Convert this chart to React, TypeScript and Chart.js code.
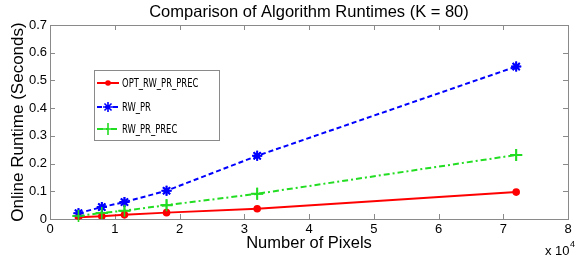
import React, { useEffect, useRef } from "react";
import { Chart, registerables } from "chart.js";

Chart.register(...registerables);

const pixels = [4400, 8000, 11500, 18000, 32000, 72000];
const optRwPrPrec = [0.006, 0.01, 0.015, 0.023, 0.037, 0.097];
const rwPr = [0.021, 0.043, 0.061, 0.102, 0.228, 0.55];
const rwPrPrec = [0.011, 0.022, 0.03, 0.05, 0.091, 0.231];
const seriesNames = ["OPT_RW_PR_PREC", "RW_PR", "RW_PR_PREC"];
const titleText = "Comparison of Algorithm Runtimes (K = 80)";
const xTitle = "Number of Pixels";
const yTitle = "Online Runtime (Seconds)";

const FONT = "'Liberation Sans', Arial, sans-serif";
const SPINE = "#8a8a8a";

function drawMarker(ctx: CanvasRenderingContext2D, style: string, x: number, y: number, r: number, color: string) {
  ctx.save();
  ctx.strokeStyle = color;
  ctx.fillStyle = color;
  ctx.lineWidth = 1.6;
  ctx.setLineDash([]);
  ctx.beginPath();
  if (style === "circle") {
    ctx.arc(x, y, r, 0, Math.PI * 2);
    ctx.fill();
  } else if (style === "star") {
    for (let i = 0; i < 4; i++) {
      const a = (i * Math.PI) / 4;
      ctx.moveTo(x - r * Math.cos(a), y - r * Math.sin(a));
      ctx.lineTo(x + r * Math.cos(a), y + r * Math.sin(a));
    }
    ctx.stroke();
  } else {
    ctx.moveTo(x - r, y);
    ctx.lineTo(x + r, y);
    ctx.moveTo(x, y - r);
    ctx.lineTo(x, y + r);
    ctx.stroke();
  }
  ctx.restore();
}

const framePlugin = {
  id: "frame",
  beforeDatasetsDraw(chart: any) {
    const { ctx, chartArea } = chart;
    const { left, right, top, bottom } = chartArea;
    ctx.save();
    ctx.strokeStyle = SPINE;
    ctx.lineWidth = 1;
    ctx.setLineDash([]);
    ctx.strokeRect(left + 0.5, top + 0.5, right - left, bottom - top);
    const tl = 5;
    const xs = chart.scales.x;
    xs.ticks.forEach((t: any) => {
      const px = Math.round(xs.getPixelForValue(t.value)) + 0.5;
      ctx.beginPath();
      ctx.moveTo(px, bottom);
      ctx.lineTo(px, bottom - tl);
      ctx.moveTo(px, top);
      ctx.lineTo(px, top + tl);
      ctx.stroke();
    });
    const ys = chart.scales.y;
    ys.ticks.forEach((t: any) => {
      const py = Math.round(ys.getPixelForValue(t.value)) + 0.5;
      ctx.beginPath();
      ctx.moveTo(left, py);
      ctx.lineTo(left + tl, py);
      ctx.moveTo(right, py);
      ctx.lineTo(right - tl, py);
      ctx.stroke();
    });
    ctx.restore();
  },
  afterDraw(chart: any) {
    const { ctx, chartArea } = chart;
    ctx.save();
    // title centred over the plot area
    ctx.fillStyle = "#000";
    ctx.font = `16.5px ${FONT}`;
    ctx.textAlign = "center";
    ctx.textBaseline = "middle";
    ctx.fillText(titleText, (chartArea.left + chartArea.right) / 2, 12);

    // exponent label
    ctx.textBaseline = "alphabetic";
    ctx.textAlign = "left";
    ctx.font = `13px ${FONT}`;
    ctx.fillText("x 10", 545, 255);
    ctx.font = `9px ${FONT}`;
    ctx.fillText("4", 570, 247);

    // legend box
    const bx = chartArea.left + 44;
    const by = chartArea.top + 45;
    const bw = 125;
    const bh = 70;
    ctx.fillStyle = "#fff";
    ctx.fillRect(bx, by, bw, bh);
    ctx.strokeStyle = SPINE;
    ctx.lineWidth = 1;
    ctx.strokeRect(bx + 0.5, by + 0.5, bw, bh);
    const rows = [13, 37, 59];
    chart.data.datasets.forEach((ds: any, i: number) => {
      const y = by + rows[i];
      ctx.save();
      ctx.strokeStyle = ds.borderColor;
      ctx.lineWidth = ds.borderWidth;
      ctx.setLineDash(ds.borderDash || []);
      ctx.beginPath();
      ctx.moveTo(bx + 3, y);
      ctx.lineTo(bx + 25, y);
      ctx.stroke();
      ctx.restore();
      drawMarker(ctx, ds.pointStyle, bx + 14, y, ds.pointRadius, ds.borderColor);
      ctx.save();
      ctx.fillStyle = "#000";
      ctx.font = `13px 'DejaVu Sans Condensed', 'Liberation Sans Narrow', sans-serif`;
      ctx.textBaseline = "middle";
      ctx.textAlign = "left";
      ctx.translate(bx + 28, y + 1);
      ctx.scale(0.72, 1);
      ctx.fillText(ds.label, 0, 0);
      ctx.restore();
    });
    ctx.restore();
  },
};

const markerPlugin = {
  id: "markers",
  afterDatasetsDraw(chart: any) {
    const { ctx } = chart;
    chart.data.datasets.forEach((ds: any, i: number) => {
      const meta = chart.getDatasetMeta(i);
      meta.data.forEach((pt: any) => {
        drawMarker(ctx, ds.pointStyle, pt.x, pt.y, ds.pointRadius, ds.borderColor);
      });
    });
  },
};

export default function App() {
  const ref = useRef<HTMLCanvasElement | null>(null);
  useEffect(() => {
    if (!ref.current) return;
    const mk = (ys: number[]) => pixels.map((x, i) => ({ x, y: ys[i] }));
    const chart = new Chart(ref.current, {
      type: "line",
      data: {
        datasets: [
          {
            label: seriesNames[0],
            data: mk(optRwPrPrec),
            borderColor: "#ff0000",
            backgroundColor: "#ff0000",
            borderWidth: 2,
            pointStyle: "circle",
            pointRadius: 2.8,
            fill: false,
          } as any,
          {
            label: seriesNames[1],
            data: mk(rwPr),
            borderColor: "#0000ff",
            backgroundColor: "#0000ff",
            borderWidth: 2,
            borderDash: [5, 3],
            pointStyle: "star",
            pointRadius: 5,
            fill: false,
          },
          {
            label: seriesNames[2],
            data: mk(rwPrPrec),
            borderColor: "#22dd22",
            backgroundColor: "#22dd22",
            borderWidth: 2,
            borderDash: [6, 3, 2, 3],
            pointStyle: "cross",
            pointRadius: 6,
            fill: false,
          },
        ],
      },
      options: {
        animation: false,
        responsive: false,
        devicePixelRatio: 1,
        layout: { padding: { left: 0, right: 2, top: 25, bottom: 0 } },
        elements: { point: { radius: 0, hoverRadius: 0 }, line: { tension: 0 } },
        datasets: { line: { pointRadius: 0 } } as any,
        plugins: {
          legend: { display: false },
          tooltip: { enabled: false },
          title: { display: false },
        },
        scales: {
          x: {
            type: "linear",
            min: 0,
            max: 80000,
            ticks: {
              stepSize: 10000,
              color: "#000",
              font: { family: FONT, size: 13 },
              padding: 3,
              maxRotation: 0,
              callback: (v: any) => String(Number(v) / 10000),
            },
            grid: { display: false, drawTicks: false },
            border: { display: false },
            title: {
              display: true,
              text: xTitle,
              color: "#000",
              font: { family: FONT, size: 16.5, lineHeight: 1.1 },
              padding: 9,
            },
            afterFit: (s: any) => {
              s.height = 43;
            },
          },
          y: {
            type: "linear",
            min: 0,
            max: 0.7,
            ticks: {
              stepSize: 0.1,
              color: "#000",
              font: { family: FONT, size: 13 },
              padding: 3,
            },
            grid: { display: false, drawTicks: false },
            border: { display: false },
            title: {
              display: true,
              text: yTitle,
              color: "#000",
              font: { family: FONT, size: 17, lineHeight: 1.1 },
              padding: 9,
            },
            afterFit: (s: any) => {
              s.width = 50;
            },
          },
        },
      },
      plugins: [framePlugin, markerPlugin],
    });
    return () => chart.destroy();
  }, []);
  return (
    <div style={{ position: "absolute", left: 0, top: 0, width: 576, height: 262, background: "#fff" }}>
      <canvas ref={ref} width={576} height={262} style={{ display: "block", width: 576, height: 262 }} />
    </div>
  );
}
